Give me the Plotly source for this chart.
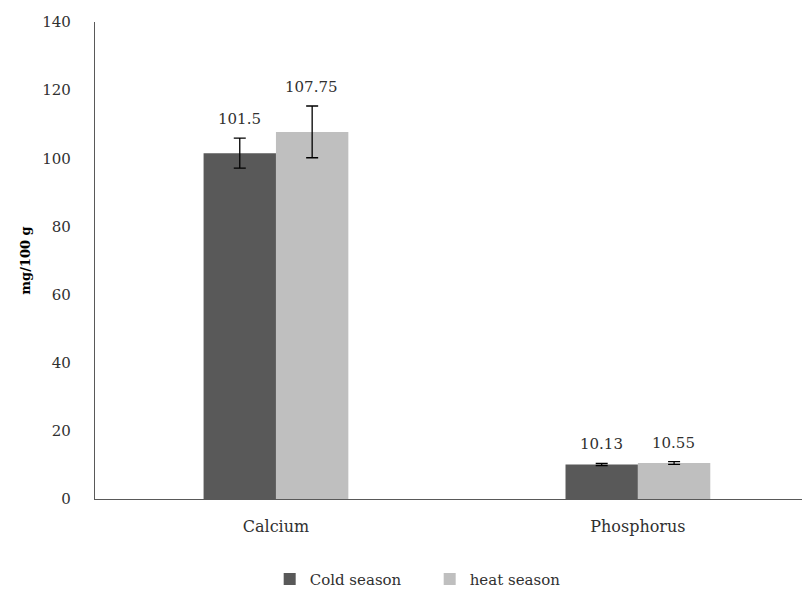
import plotly.graph_objects as go

categories = ["Calcium", "Phosphorus"]
cold_values = [101.5, 10.13]
heat_values = [107.75, 10.55]
cold_err = [4.4, 0.3]
heat_err = [7.6, 0.4]
cold_labels = ["101.5", "10.13"]
heat_labels = ["107.75", "10.55"]

FONT = "DejaVu Serif, Liberation Serif, serif"
TXT = "#303030"

fig = go.Figure()
fig.add_trace(go.Bar(
    x=categories, y=cold_values, name="Cold season",
    marker=dict(color="#595959", line=dict(width=0)),
    error_y=dict(type="data", array=cold_err, color="#000000", thickness=1.3, width=6),
))
fig.add_trace(go.Bar(
    x=categories, y=heat_values, name="heat season",
    marker=dict(color="#bfbfbf", line=dict(width=0)),
    error_y=dict(type="data", array=heat_err, color="#000000", thickness=1.3, width=6),
))

for cat, v, e, lab in zip(categories, cold_values, cold_err, cold_labels):
    fig.add_annotation(x=cat, y=v + e, text=lab, xshift=-36, yshift=8,
                       showarrow=False, yanchor="bottom",
                       font=dict(family=FONT, size=15, color=TXT))
for cat, v, e, lab in zip(categories, heat_values, heat_err, heat_labels):
    fig.add_annotation(x=cat, y=v + e, text=lab, xshift=36, yshift=8,
                       showarrow=False, yanchor="bottom",
                       font=dict(family=FONT, size=15, color=TXT))

fig.update_layout(
    width=802, height=590,
    margin=dict(l=87, r=2, t=14, b=99),
    paper_bgcolor="white", plot_bgcolor="white",
    barmode="group", bargap=0.6, bargroupgap=0,
    font=dict(family=FONT, size=15, color=TXT),
    showlegend=True,
    legend=dict(orientation="h", x=0.245, xanchor="left", y=-0.168, yanchor="middle",
                font=dict(family=FONT, size=15, color=TXT),
                itemwidth=30, entrywidth=115, entrywidthmode="pixels",
                traceorder="normal"),
    xaxis=dict(range=[-0.5, 1.47], showline=True, linecolor="#595959", linewidth=1.3,
               ticks="", ticklabelstandoff=13,
               tickfont=dict(family=FONT, size=16, color=TXT), showgrid=False),
    yaxis=dict(range=[0, 140], dtick=20, showline=True, linecolor="#595959", linewidth=1.3,
               showgrid=False, zeroline=False, ticks="", ticklabelstandoff=20,
               tickfont=dict(family=FONT, size=15, color=TXT),
               title=dict(text="<b>mg/100 g</b>", font=dict(family=FONT, size=13, color="#000000"),
                          standoff=8)),
)

fig.write_html("out.html")
